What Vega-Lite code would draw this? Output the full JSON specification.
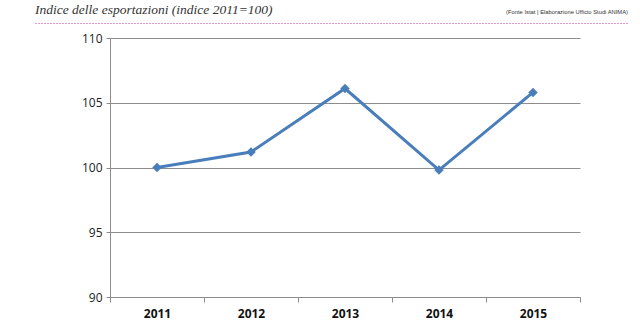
{
  "$schema": "https://vega.github.io/schema/vega-lite/v6.json",
  "autosize": {"type": "pad"},
  "padding": {"left": 35, "top": 0, "right": 0, "bottom": 0},
  "background": "white",
  "config": {"view": {"stroke": null}},
  "spacing": 9,
  "vconcat": [
    {
      "width": 470,
      "height": 23,
      "data": {
        "values": [
          {"a": 0, "testo": "Indice delle esportazioni (indice 2011=100)", "tipo": "titolo"},
          {"a": 1, "testo": "(Fonte Istat | Elaborazione Ufficio Studi ANIMA)", "tipo": "fonte"}
        ]
      },
      "encoding": {
        "x": {
          "field": "a",
          "type": "quantitative",
          "scale": {"domain": [0, 1], "range": [-75, 518]},
          "axis": {
            "orient": "bottom",
            "title": null,
            "domain": true,
            "domainColor": "#cc3399",
            "domainDash": [1, 2],
            "domainWidth": 1.2,
            "ticks": false,
            "labels": false,
            "grid": false
          }
        },
        "text": {"field": "testo"}
      },
      "layer": [
        {
          "transform": [{"filter": "datum.tipo == 'titolo'"}],
          "mark": {
            "type": "text",
            "align": "left",
            "baseline": "alphabetic",
            "dy": 2,
            "font": "Liberation Serif",
            "fontStyle": "italic",
            "fontSize": 13.5,
            "color": "#333333"
          }
        },
        {
          "transform": [{"filter": "datum.tipo == 'fonte'"}],
          "mark": {
            "type": "text",
            "align": "right",
            "baseline": "middle",
            "font": "Liberation Sans",
            "fontSize": 5.8,
            "color": "#333333"
          }
        }
      ]
    },
    {
      "width": 470,
      "height": 259,
      "data": {
        "values": [
          {"anno": "2011", "indice": 100.0},
          {"anno": "2012", "indice": 101.2},
          {"anno": "2013", "indice": 106.1},
          {"anno": "2014", "indice": 99.8},
          {"anno": "2015", "indice": 105.8}
        ]
      },
      "mark": {
        "type": "line",
        "color": "#4a7ebb",
        "strokeWidth": 3,
        "point": {"shape": "diamond", "size": 90, "filled": true, "color": "#4a7ebb", "opacity": 1}
      },
      "encoding": {
        "x": {
          "field": "anno",
          "type": "ordinal",
          "scale": {"type": "band", "paddingInner": 0, "paddingOuter": 0},
          "axis": {
            "title": null,
            "labelAngle": 0,
            "tickBand": "extent",
            "domainColor": "#8c8c8c",
            "tickColor": "#8c8c8c",
            "tickSize": 5,
            "labelFont": "Open Sans",
            "labelFontSize": 12,
            "labelFontWeight": "bold",
            "labelColor": "#111111",
            "labelPadding": 6,
            "grid": false
          }
        },
        "y": {
          "field": "indice",
          "type": "quantitative",
          "scale": {"domain": [90, 110], "zero": false, "nice": false},
          "axis": {
            "title": null,
            "values": [90, 95, 100, 105, 110],
            "grid": true,
            "gridColor": "#8c8c8c",
            "domainColor": "#8c8c8c",
            "tickColor": "#8c8c8c",
            "tickSize": 4,
            "labelPadding": 4,
            "labelFont": "Open Sans",
            "labelFontSize": 12,
            "labelColor": "#222222",
            "minExtent": 75
          }
        }
      }
    }
  ]
}
